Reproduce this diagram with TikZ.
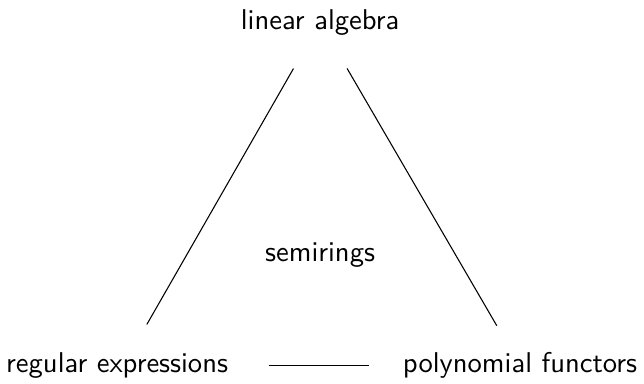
\documentclass[tikz,border=0pt]{standalone}
\usetikzlibrary{positioning}
\tikzset{
  topic/.style={font=\sffamily\fontsize{10.7pt}{13pt}\selectfont,inner sep=3pt},
  link/.style={thin,draw=black},
}
\begin{document}
\begin{tikzpicture}
        \useasboundingbox (0,0) rectangle (8.47,-5.04);
        \node[topic] (la) at (4.21,-0.29) {linear algebra};
        \node[topic] (sr) at (4.21,-3.35) {semirings};
        \node[topic] (re) at (1.54,-4.81) {regular expressions};
        \node[topic] (pf) at (6.84,-4.81) {polynomial functors};
        \draw[link,shorten <=10.8pt,shorten >=17.8pt] (la) -- ([xshift=0.08cm]re.center);
        \draw[link,shorten <=10.8pt,shorten >=8pt] (la) -- (pf);
        \draw[link,shorten <=12pt,shorten >=9.7pt] (re) -- (pf);
      \end{tikzpicture}
\end{document}
